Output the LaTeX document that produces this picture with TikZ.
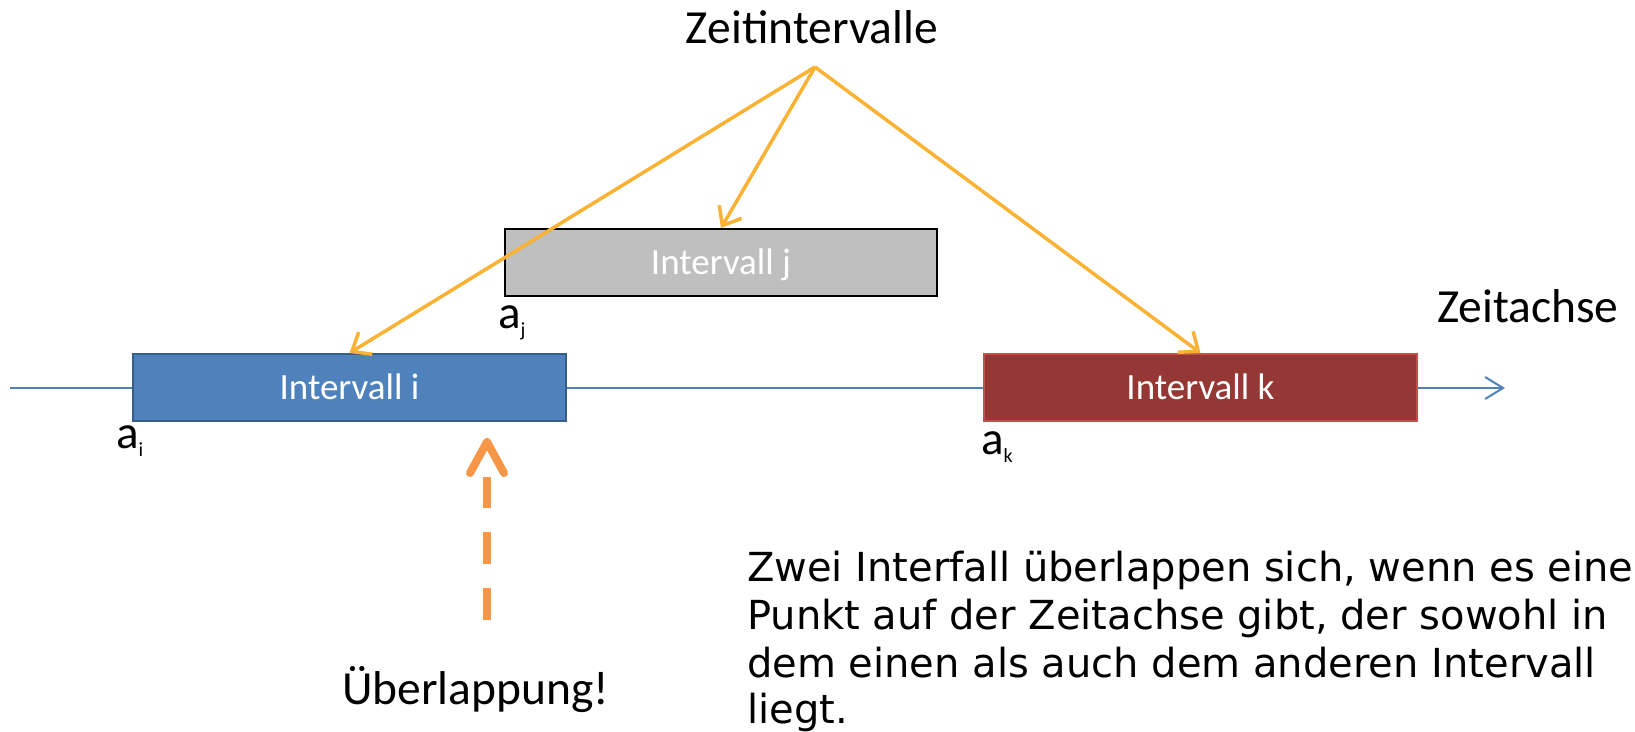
\documentclass[tikz,border=0pt]{standalone}
\usepackage{fontspec}
\setmainfont{Carlito}
\newfontfamily\vfont{DejaVu Sans}
\usetikzlibrary{arrows.meta}
\definecolor{axisblue}{HTML}{4F81BD}
\definecolor{iborder}{HTML}{385D8A}
\definecolor{jfill}{HTML}{BFBFBF}
\definecolor{kfill}{HTML}{953735}
\definecolor{kborder}{HTML}{C0504D}
\definecolor{gold}{HTML}{F9B233}
\definecolor{ovorange}{HTML}{F79646}
\tikzset{
  big/.style={font=\fontsize{47.5}{56}\selectfont, inner sep=0pt},
  ivbox/.style={minimum width=433pt, minimum height=67pt, inner sep=0pt, line width=2pt,
     text=white, font=\fontsize{37}{44}\selectfont, text height=24pt, text depth=0pt},
  albl/.style={font=\fontsize{47}{56}\selectfont, inner sep=0pt, anchor=base west},
  para/.style={font=\vfont\fontsize{40}{48}\selectfont, inner sep=0pt, anchor=base west},
  pointer/.style={draw=gold, line width=3.5pt, -{Straight Barb[length=16pt,width=26pt,line width=3.5pt]}},
}
\newcommand{\sublbl}[1]{\raisebox{-8pt}{\fontsize{20}{24}\selectfont #1}}
\begin{document}
\begin{tikzpicture}[x=1pt,y=-1pt]
\clip (0,0) rectangle (1635,731);
% axis
\coordinate (axs) at (10,388);
\coordinate (axe) at (1505,388);
\draw[axisblue, line width=2pt, -{Straight Barb[length=18pt,width=22pt,line width=2pt]}] (axs) -- (axe);
% boxes
\node[ivbox, draw=iborder, fill=axisblue] (bi) at (349.5,387.5) {Intervall i};
\node[ivbox, draw=black, fill=jfill, minimum width=432pt] (bj) at (721,262.5) {Intervall j};
\node[ivbox, draw=kborder, fill=kfill] (bk) at (1200.5,387.5) {Intervall k};
% labels
\node[big, anchor=base] (zi) at (812,43) {Zeitintervalle};
\node[big, anchor=base west] (za) at (1437,322) {Zeitachse};
\node[albl] (ai) at (116,448) {a\sublbl{i}};
\node[albl] (aj) at (498,328) {a\sublbl{j}};
\node[albl] (ak) at (981,454) {a\sublbl{k}};
% pointers
\coordinate (apex) at (815,67);
\draw[pointer] (apex) -- (bi.north);
\draw[pointer] (apex) -- (bj.north);
\draw[pointer] (apex) -- (bk.north);
% overlap arrow
\node[big, anchor=base] (ov) at (475.5,704) {Überlappung!};
\coordinate (ovb) at (487,620);
\coordinate (ovm) at (487,477);
\coordinate (ovt) at (487,442);
\coordinate (ovl) at (470,473);
\coordinate (ovr) at (504,473);
\draw[ovorange, line width=8pt, dash pattern=on 32pt off 24pt] (ovb) -- (ovm);
\draw[ovorange, line width=8pt, line cap=round, line join=round] (ovl) -- (ovt) -- (ovr);
% paragraph
\node[para] (p1) at (747,581) {Zwei Interfall überlappen sich, wenn es einen};
\node[para] (p2) at (747,629) {Punkt auf der Zeitachse gibt, der sowohl in};
\node[para] (p3) at (747,677) {dem einen als auch dem anderen Intervall};
\node[para] (p4) at (747,723) {liegt.};
\end{tikzpicture}
\end{document}
